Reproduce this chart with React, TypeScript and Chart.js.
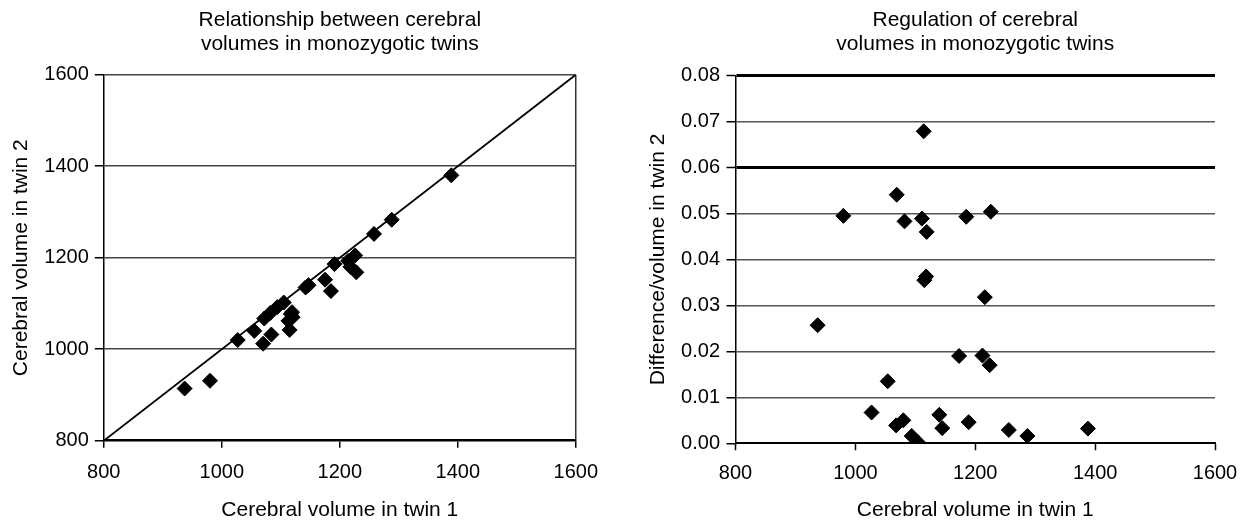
import React, { useEffect, useRef } from "react";
import { Chart, registerables } from "chart.js";

Chart.register(...registerables);

const FONT = "'Liberation Sans', Arial, Helvetica, sans-serif";

// Left chart: cerebral volume twin 1 vs twin 2
const twin1Volume = [937, 980, 1027, 1055, 1070, 1072, 1082, 1084, 1094, 1105, 1115, 1113, 1120, 1117, 1119, 1142, 1147, 1175, 1185, 1191, 1218, 1214, 1226, 1228, 1258, 1288, 1389];
const twin2Volume = [914, 931, 1020, 1040, 1012, 1067, 1079, 1032, 1092, 1102, 1042, 1062, 1070, 1077, 1081, 1135, 1140, 1152, 1127, 1186, 1180, 1193, 1205, 1168, 1252, 1283, 1380];
const identityLine = [800, 1600];

// Right chart: difference / volume in twin 2
const regVolume = [937, 980, 1027, 1054, 1069, 1068, 1080, 1082, 1094, 1104, 1114, 1111, 1119, 1115, 1118, 1140, 1145, 1173, 1185, 1189, 1216, 1212, 1224, 1226, 1256, 1287, 1388];
const regRatio = [0.0257, 0.0495, 0.0067, 0.0135, 0.0541, 0.0039, 0.005, 0.0483, 0.0016, 0.0003, 0.0679, 0.0489, 0.046, 0.0355, 0.0363, 0.0062, 0.0033, 0.019, 0.0493, 0.0046, 0.0318, 0.0191, 0.017, 0.0504, 0.0029, 0.0016, 0.0032];

const leftTitle = ["Relationship between cerebral", "volumes in monozygotic twins"];
const rightTitle = ["Regulation of cerebral", "volumes in monozygotic twins"];
const xTitle = "Cerebral volume in twin 1";
const leftYTitle = "Cerebral volume in twin 2";
const rightYTitle = "Difference/volume in twin 2";

const tickFont = { family: FONT, size: 20 };
const titleFont = { family: FONT, size: 21, weight: "normal" as const, lineHeight: 1.15 };
const axisTitleFont = { family: FONT, size: 21, weight: "normal" as const, lineHeight: 1.2 };

const near = (a: number, b: number) => Math.abs(a - b) < 1e-9;
const plain = (v: any) => String(v);

export default function App() {
  const leftRef = useRef<HTMLCanvasElement>(null);
  const rightRef = useRef<HTMLCanvasElement>(null);

  useEffect(() => {
    document.body.style.margin = "0";
    const charts: Chart[] = [];

    if (leftRef.current) {
      charts.push(
        new Chart(leftRef.current, {
          type: "scatter",
          data: {
            datasets: [
              {
                data: identityLine.map((v) => ({ x: v, y: v })),
                showLine: true,
                borderColor: "#000",
                borderWidth: 1.8,
                pointRadius: 0,
                order: 2,
              },
              {
                data: twin1Volume.map((x, i) => ({ x, y: twin2Volume[i] })),
                pointStyle: "rectRot",
                pointRadius: 7.5,
                backgroundColor: "#000",
                borderColor: "#000",
                borderWidth: 1,
                order: 1,
              },
            ],
          },
          options: {
            animation: false,
            responsive: false,
            layout: { padding: { left: 0, right: 44.2, top: 0, bottom: 0 } },
            plugins: {
              legend: { display: false },
              tooltip: { enabled: false },
              title: {
                display: true,
                text: leftTitle,
                fullSize: false,
                color: "#000",
                font: titleFont,
                padding: { top: 8, bottom: 18.4 },
              },
            },
            scales: {
              x: {
                type: "linear",
                min: 800,
                max: 1600,
                ticks: { stepSize: 200, color: "#000", font: tickFont, padding: 13, callback: plain },
                grid: {
                  color: (c: any) => (c.tick && c.tick.value === 1600 ? "#333" : "rgba(0,0,0,0)"),
                  lineWidth: 1.5,
                  tickColor: "#000",
                  tickLength: 7,
                  tickWidth: 1.5,
                },
                border: { display: true, color: "#000", width: 2.5 },
                title: { display: true, text: xTitle, color: "#000", font: axisTitleFont, padding: { top: 0, bottom: 2.4 } },
                afterFit: (s: any) => {
                  s.height = 84.3;
                },
              },
              y: {
                type: "linear",
                min: 800,
                max: 1600,
                ticks: { stepSize: 200, color: "#000", font: tickFont, padding: 6, callback: plain },
                grid: {
                  color: (c: any) => (c.tick && c.tick.value === 800 ? "rgba(0,0,0,0)" : "#444"),
                  lineWidth: 1.5,
                  tickColor: "#000",
                  tickLength: 9,
                  tickWidth: 1.5,
                },
                border: { display: true, color: "#000", width: 1.5 },
                title: { display: true, text: leftYTitle, color: "#000", font: axisTitleFont, padding: { top: 8.4, bottom: 0 } },
                afterFit: (s: any) => {
                  s.width = 103.8;
                },
              },
            },
          },
        } as any)
      );
    }

    if (rightRef.current) {
      charts.push(
        new Chart(rightRef.current, {
          type: "scatter",
          data: {
            datasets: [
              {
                data: regVolume.map((x, i) => ({ x, y: regRatio[i] })),
                pointStyle: "rectRot",
                pointRadius: 7.5,
                backgroundColor: "#000",
                borderColor: "#000",
                borderWidth: 1,
              },
            ],
          },
          options: {
            animation: false,
            responsive: false,
            layout: { padding: { left: 0, right: 37, top: 0, bottom: 0 } },
            plugins: {
              legend: { display: false },
              tooltip: { enabled: false },
              title: {
                display: true,
                text: rightTitle,
                fullSize: false,
                color: "#000",
                font: titleFont,
                padding: { top: 8, bottom: 19.4 },
              },
            },
            scales: {
              x: {
                type: "linear",
                min: 800,
                max: 1600,
                ticks: { stepSize: 200, color: "#000", font: tickFont, padding: 10.7, callback: plain },
                grid: {
                  drawOnChartArea: false,
                  color: "rgba(0,0,0,0)",
                  tickColor: "#000",
                  tickLength: 7,
                  tickWidth: 1.5,
                },
                border: { display: true, color: "#000", width: 2 },
                title: { display: true, text: xTitle, color: "#000", font: axisTitleFont, padding: { top: 0, bottom: 2.4 } },
                afterFit: (s: any) => {
                  s.height = 81.7;
                },
              },
              y: {
                type: "linear",
                min: 0,
                max: 0.08,
                ticks: {
                  stepSize: 0.01,
                  color: "#000",
                  font: tickFont,
                  padding: 6.5,
                  callback: (v: any) => Number(v).toFixed(2),
                },
                grid: {
                  color: (c: any) => {
                    const v = c.tick ? c.tick.value : -1;
                    if (near(v, 0)) return "rgba(0,0,0,0)";
                    if (near(v, 0.08) || near(v, 0.06)) return "#000";
                    return "#555";
                  },
                  lineWidth: (c: any) => {
                    const v = c.tick ? c.tick.value : -1;
                    return near(v, 0.08) || near(v, 0.06) ? 3 : 1.5;
                  },
                  tickColor: "#000",
                  tickLength: 9,
                  tickWidth: 1.5,
                },
                border: { display: true, color: "#000", width: 1.5 },
                title: { display: true, text: rightYTitle, color: "#000", font: axisTitleFont, padding: { top: 25.9, bottom: 0 } },
                afterFit: (s: any) => {
                  s.width = 115.5;
                },
              },
            },
          },
        } as any)
      );
    }

    return () => {
      charts.forEach((c) => c.destroy());
    };
  }, []);

  return (
    <div style={{ position: "relative", width: 1252, height: 525, background: "#fff", overflow: "hidden" }}>
      <canvas ref={leftRef} width={620} height={525} style={{ position: "absolute", left: 0, top: 0, width: 620, height: 525 }} />
      <canvas ref={rightRef} width={632} height={525} style={{ position: "absolute", left: 620, top: 0, width: 632, height: 525 }} />
    </div>
  );
}
